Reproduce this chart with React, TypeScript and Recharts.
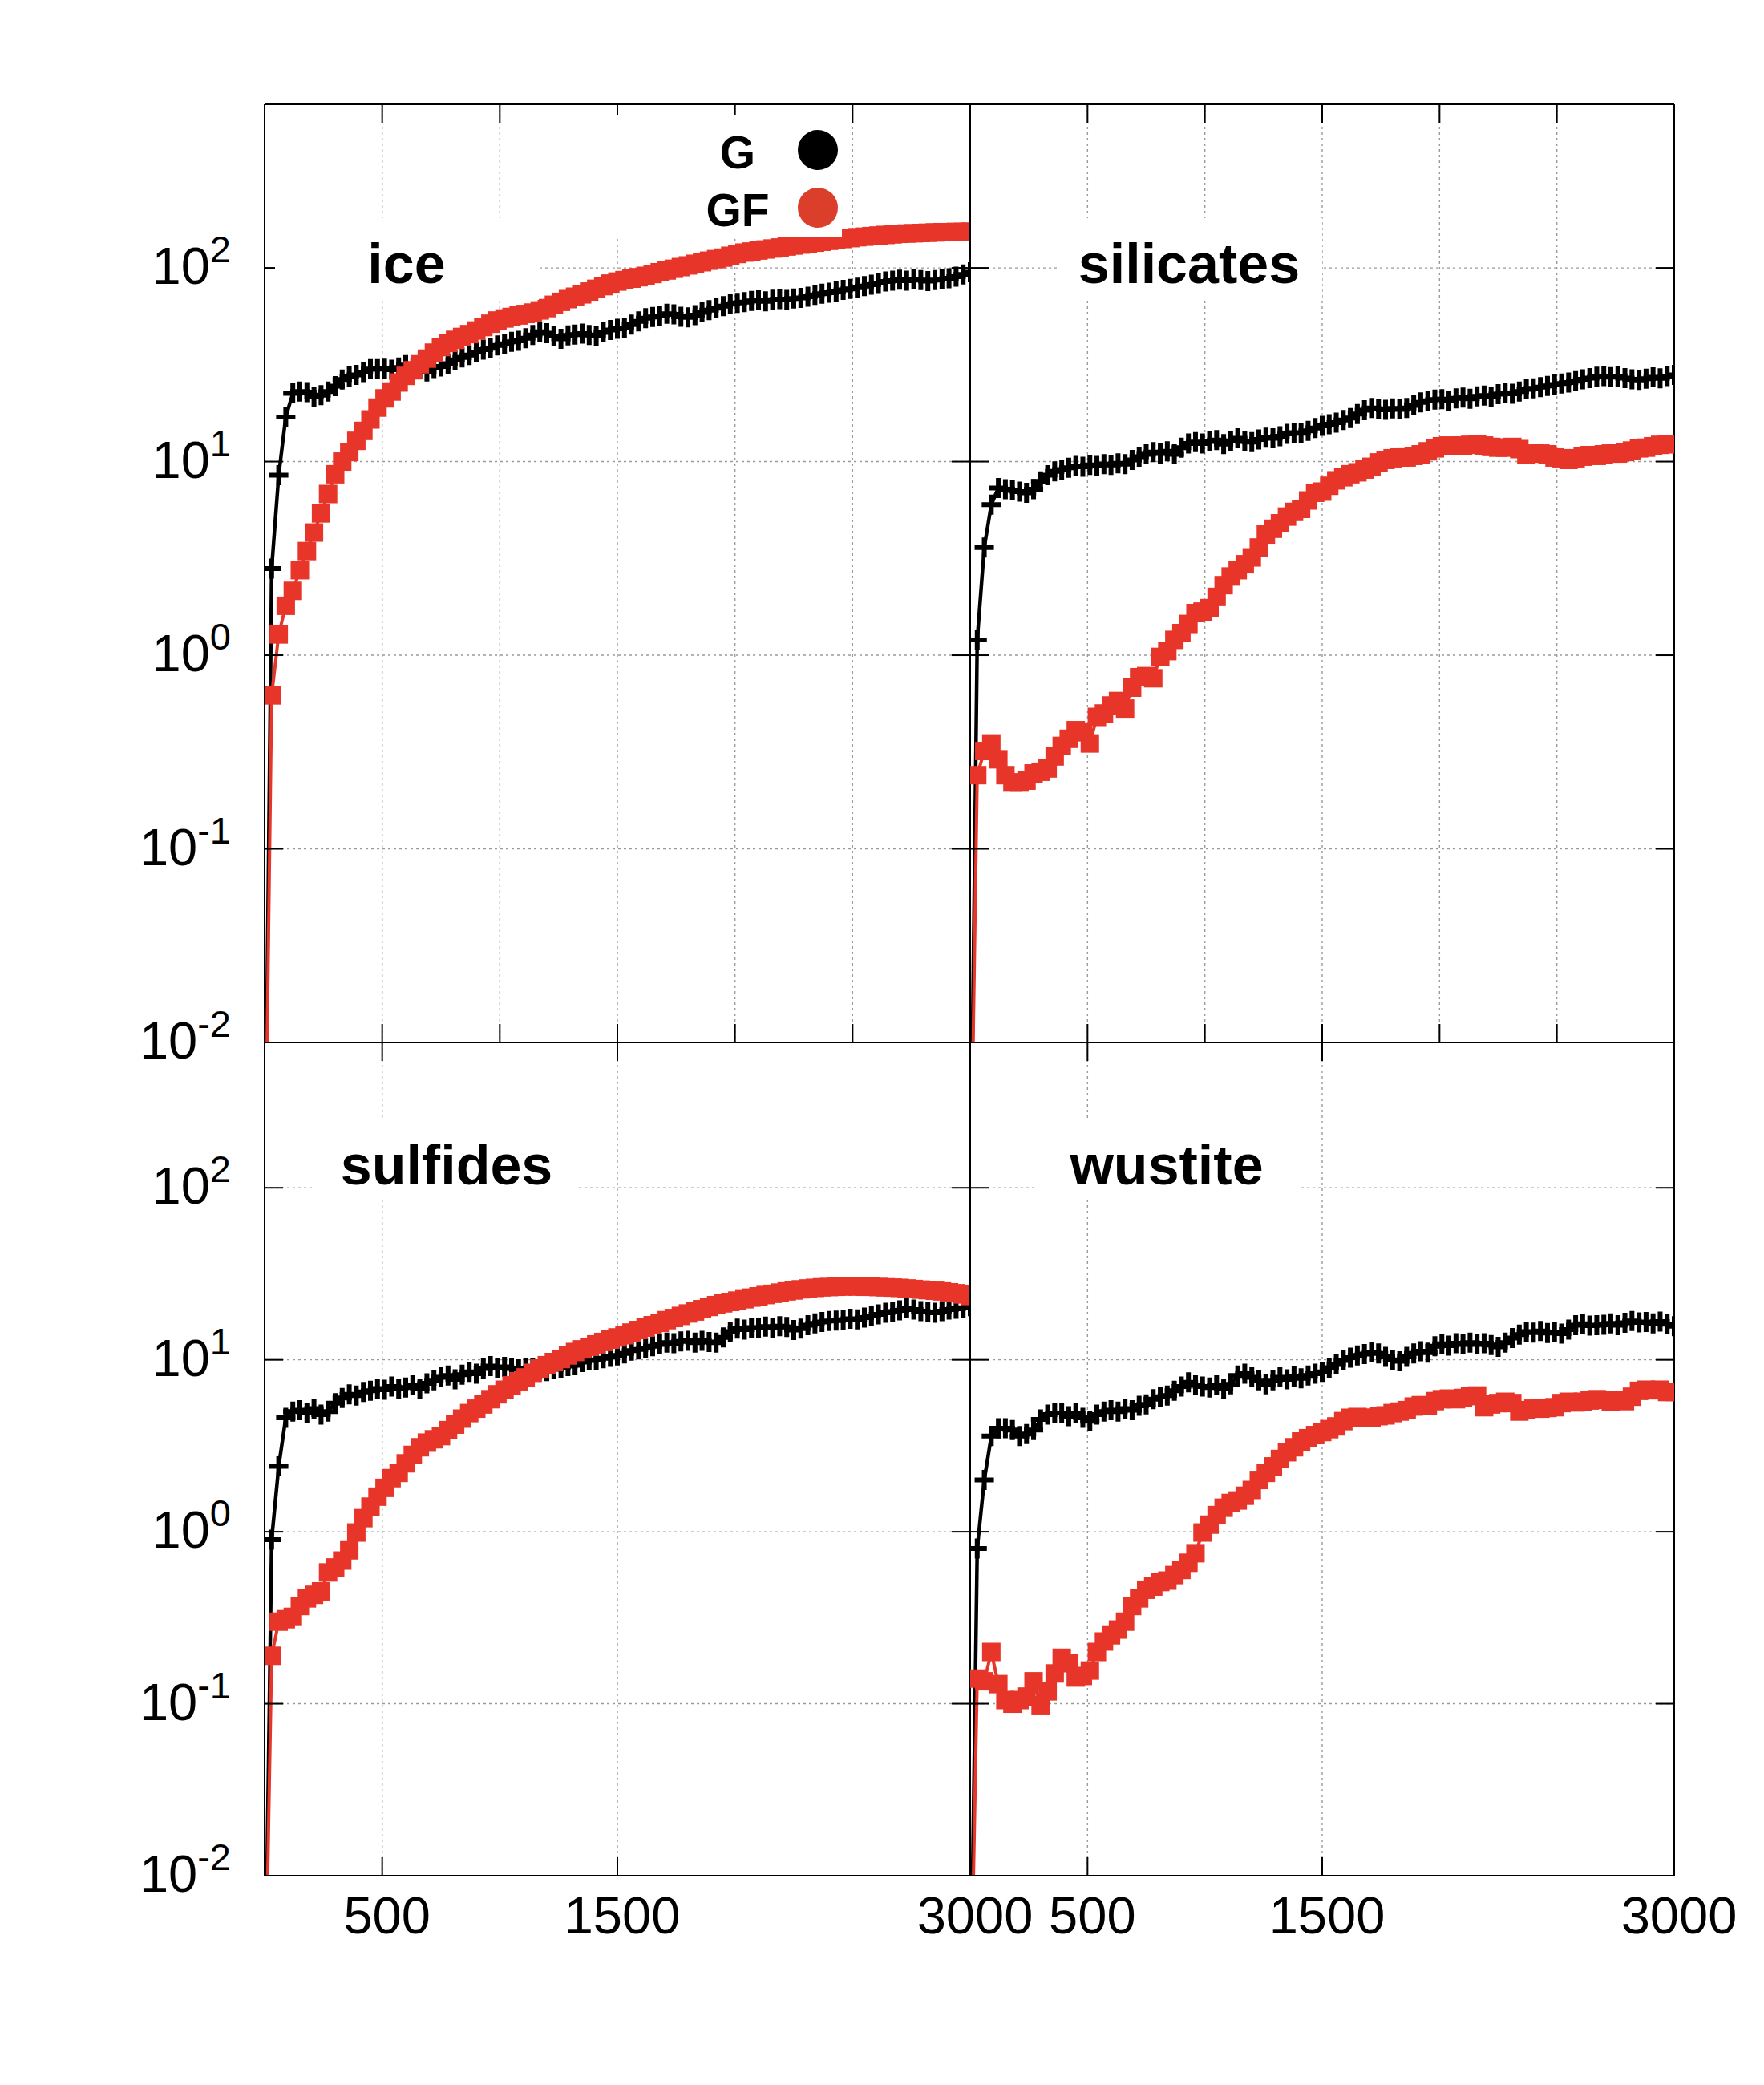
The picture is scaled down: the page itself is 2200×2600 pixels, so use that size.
import React from 'react'
import { LineChart, Line, XAxis, YAxis, CartesianGrid } from 'recharts'

// simulation time (x) shared by every panel
const times = [
  0, 30, 60, 90, 120, 150, 180, 210, 240, 270, 300, 330, 360, 390, 420, 450, 480, 510, 540, 570,
  600, 630, 660, 690, 720, 750, 780, 810, 840, 870, 900, 930, 960, 990, 1020, 1050, 1080, 1110, 1140, 1170,
  1200, 1230, 1260, 1290, 1320, 1350, 1380, 1410, 1440, 1470, 1500, 1530, 1560, 1590, 1620, 1650, 1680, 1710, 1740, 1770,
  1800, 1830, 1860, 1890, 1920, 1950, 1980, 2010, 2040, 2070, 2100, 2130, 2160, 2190, 2220, 2250, 2280, 2310, 2340, 2370,
  2400, 2430, 2460, 2490, 2520, 2550, 2580, 2610, 2640, 2670, 2700, 2730, 2760, 2790, 2820, 2850, 2880, 2910, 2940, 2970,
  3000,
]

const iceG = [
  0.001, 2.8, 8.5, 17, 22.5, 23, 22.8, 21.6, 22, 23,
  24.5, 26.5, 27.5, 28, 29, 30, 30, 30.2, 29.8, 30.6,
  31.5, 30.5, 30, 29.2, 30.4, 31, 32, 33.5, 34.5, 35.5,
  36.8, 37.8, 38.5, 39.8, 40.5, 41.5, 42, 43.3, 45, 46.8,
  46, 44.5, 43, 44.8, 45.2, 45.8, 45, 44.5, 46.5, 47.8,
  48.5, 49, 51, 53, 55, 55.8, 56.5, 58, 57.5, 56,
  55.5, 57, 59, 60.5, 62, 63.5, 65, 66, 66.5, 67.5,
  68, 67.2, 68.5, 69, 68.3, 69.5, 70, 71, 72.5, 73.5,
  74.5, 75.5, 77, 78, 79, 80.5, 82, 83.5, 85, 86,
  87, 86, 87.5, 86.5, 85.5, 86.5, 87.5, 88.5, 90, 92.5,
  95,
]
const iceGF = [
  0.001, 0.62, 1.28, 1.8, 2.15, 2.75, 3.45, 4.3, 5.4, 6.8,
  8.6, 10, 11.2, 12.8, 14.4, 16.5, 19, 21.2, 23, 25.6,
  27.7, 29.6, 31.8, 34, 36.5, 39, 41, 42.5, 44, 45.5,
  47.5, 49.5, 51.5, 53.5, 54.8, 55.8, 56.8, 57.8, 58.8, 60.3,
  62, 64.5, 66.8, 69, 71, 73, 75.5, 78, 80.5, 83,
  85, 86.5, 88, 89.5, 91, 93, 95, 97, 99, 101,
  103, 105, 107, 109, 111, 113, 115.5, 118, 120, 121.5,
  123, 124.5, 126, 127.5, 129, 130.5, 132, 133.5, 135, 136.5,
  138, 139.5, 141, 142.5, 144, 145, 146, 147, 148, 149,
  150, 150.5, 151, 151.5, 152, 152.5, 153, 153, 153.5, 153.5,
  154,
]
const silG = [
  0.001, 1.2, 3.6, 6, 7.3, 7.2, 7.1, 7, 6.9, 7.2,
  7.9, 8.5, 8.9, 9.1, 9.3, 9.5, 9.4, 9.6, 9.5, 9.7,
  9.6, 9.8, 9.7, 10.2, 10.6, 10.9, 11.2, 11, 11.3, 10.9,
  11.8, 12.4, 12.6, 12.4, 12.7, 12.9, 12.3, 12.8, 13.2, 12.7,
  12.6, 13, 13.3, 13.2, 13.5, 13.9, 14.1, 14, 14.4, 14.9,
  15.3, 15.6, 15.9, 16.4, 16.8, 17.6, 18.4, 18.9, 18.7, 18.5,
  18.8, 18.6, 18.9, 19.5, 20.2, 20.6, 20.9, 21, 20.6, 21.2,
  21.4, 21.1, 21.7, 21.9, 21.6, 22.3, 22.6, 22.4, 23, 23.6,
  23.9, 24.2, 24.6, 25, 25.3, 25.6, 26, 26.6, 27, 27.4,
  27.6, 27.3, 27.5, 27, 26.6, 26.4, 26.8, 27.2, 26.9, 27.6,
  28,
]
const silGF = [
  0.001, 0.24, 0.32, 0.35, 0.29, 0.24, 0.22, 0.22, 0.225, 0.245,
  0.25, 0.26, 0.3, 0.34, 0.37, 0.41, 0.4, 0.35, 0.48, 0.5,
  0.55, 0.58, 0.53, 0.68, 0.77, 0.78, 0.76, 0.98, 1.05, 1.2,
  1.3, 1.45, 1.65, 1.68, 1.75, 2, 2.3, 2.55, 2.75, 2.95,
  3.2, 3.6, 4.2, 4.5, 4.8, 5.2, 5.5, 5.7, 6.3, 6.9,
  7, 7.5, 8, 8.3, 8.6, 8.8, 9.1, 9.4, 9.9, 10.2,
  10.4, 10.5, 10.5, 10.7, 10.9, 11.3, 11.7, 12, 12.1, 12,
  12.1, 12.2, 12.3, 12.1, 11.9, 11.8, 11.8, 11.9, 11.6, 10.9,
  11, 11, 10.9, 10.5, 10.4, 10.2, 10.4, 10.6, 10.8, 10.7,
  10.9, 11, 11, 11.2, 11.4, 11.7, 11.8, 12, 12.2, 12.3,
  12.3,
]
const sulG = [
  0.001, 0.9, 2.4, 4.6, 5, 5.1, 4.9, 5.2, 4.8, 5,
  5.6, 6, 6.3, 6.2, 6.5, 6.6, 6.8, 6.7, 7, 6.8,
  6.9, 7.1, 6.8, 7.3, 7.6, 7.9, 8.1, 7.7, 8.2, 8.5,
  8.3, 8.9, 9.2, 9, 9.1, 8.9, 8.8, 8.9, 9, 8.8,
  8.6, 8.8, 9, 9.2, 9.3, 9.7, 9.9, 10, 10.2, 10.4,
  10.6, 10.9, 11.3, 11.5, 11.7, 12, 12.3, 12.6, 12.5, 12.8,
  12.9, 12.6, 12.9, 12.7, 12.6, 13.5, 14.6, 15.2, 15, 15.4,
  15.3, 15.6, 15.4, 15.7, 15.5, 14.9, 15.2, 15.9, 16.3, 16.6,
  16.8, 16.9, 17.1, 17.3, 17.2, 17.6, 18, 18.4, 18.8, 19.1,
  19.4, 19.9, 19.6, 19.2, 19, 18.8, 19.2, 19.6, 19.8, 20.1,
  20.5,
]
const sulGF = [
  0.001, 0.19, 0.3, 0.31, 0.32, 0.37, 0.41, 0.43, 0.45, 0.58,
  0.62, 0.68, 0.78, 0.99, 1.2, 1.4, 1.6, 1.8, 2.05, 2.2,
  2.5, 2.8, 3.1, 3.3, 3.45, 3.6, 3.9, 4.2, 4.55, 4.9,
  5.2, 5.5, 5.9, 6.3, 6.7, 7.1, 7.5, 7.9, 8.4, 8.9,
  9.3, 9.7, 10.1, 10.6, 11.1, 11.5, 11.9, 12.3, 12.7, 13.1,
  13.5, 13.9, 14.4, 14.9, 15.4, 15.9, 16.4, 17, 17.5, 18,
  18.6, 19.1, 19.7, 20.3, 20.8, 21.3, 21.7, 22.1, 22.5, 23,
  23.4, 23.8, 24.2, 24.6, 25, 25.3, 25.7, 26, 26.2, 26.4,
  26.5, 26.6, 26.7, 26.8, 26.7, 26.6, 26.6, 26.5, 26.4, 26.3,
  26.2, 26, 25.8, 25.6, 25.4, 25.2, 25, 24.7, 24.4, 24,
  23.5,
]
const wusG = [
  0.001, 0.8, 2, 3.6, 4, 4, 3.9, 3.6, 3.7, 3.9,
  4.5, 4.8, 4.9, 4.9, 4.7, 4.9, 4.6, 4.4, 4.8, 5,
  5.1, 5, 5.2, 5.1, 5.4, 5.5, 5.9, 6.1, 6.2, 6.6,
  7, 7.4, 7.1, 7, 6.9, 7.1, 6.8, 7.2, 8.1, 8.3,
  7.9, 7.6, 7.2, 7.6, 7.9, 7.7, 8, 7.8, 8.1, 8.3,
  8.5, 9, 9.4, 9.9, 10.3, 10.6, 10.8, 11.1, 10.9, 10.4,
  10, 9.8, 10.4, 10.9, 11.2, 11, 12, 12.4, 12.1, 12.5,
  12.3, 12.6, 12.3, 12.5, 12.2, 11.9, 12.6, 13.4, 14, 14.6,
  14.4, 14.7, 14.3, 14.5, 14.2, 15, 15.9, 16.2, 15.8, 15.9,
  16, 16.3, 15.9, 16.4, 16.8, 16.5, 16.6, 16.3, 16.7, 16.1,
  15.7,
]
const wusGF = [
  0.001, 0.14, 0.135, 0.2, 0.13, 0.105, 0.1, 0.105, 0.11, 0.135,
  0.098, 0.118, 0.15, 0.185, 0.172, 0.142, 0.145, 0.156, 0.2, 0.23,
  0.25, 0.27, 0.3, 0.37, 0.41, 0.46, 0.48, 0.51, 0.52, 0.56,
  0.6, 0.66, 0.75, 0.99, 1.1, 1.25, 1.38, 1.47, 1.52, 1.62,
  1.75, 2, 2.2, 2.4, 2.65, 2.9, 3.1, 3.35, 3.5, 3.65,
  3.8, 3.95, 4.1, 4.4, 4.6, 4.65, 4.6, 4.6, 4.7, 4.75,
  4.9, 5, 5.1, 5.35, 5.45, 5.4, 5.75, 5.9, 5.95, 5.9,
  6, 6.15, 6.2, 5.3, 5.5, 5.6, 5.7, 5.6, 5, 5.1,
  5.2, 5.2, 5.25, 5.3, 5.6, 5.7, 5.65, 5.7, 5.8, 5.9,
  5.85, 5.7, 5.8, 5.75, 6.1, 6.6, 6.7, 6.65, 6.7, 6.5,
  6.5,
]

const yTicks = [0.01, 0.1, 1, 10, 100]
const yTickExps = ['-2', '-1', '0', '1', '2']
const xTicksTop = [500, 1000, 1500, 2000, 2500, 3000]
const xTicksBottom = [500, 1500, 3000]
const seriesNames = ['G', 'GF']
const panelTitles = ['ice', 'silicates', 'sulfides', 'wustite']

const W = 2200
const H = 2600
const FONT = "'Liberation Sans', Arial, Helvetica, sans-serif"
const RED = '#e8352a'
const BLACK = '#000000'

const panels = [
  { g: iceG, gf: iceGF, left: 330, right: 1210, top: 130, bottom: 1300, xTicks: xTicksTop, xLabels: false, yLabels: true },
  { g: silG, gf: silGF, left: 1210, right: 2088, top: 130, bottom: 1300, xTicks: xTicksTop, xLabels: false, yLabels: false },
  { g: sulG, gf: sulGF, left: 330, right: 1210, top: 1300, bottom: 2339, xTicks: xTicksBottom, xLabels: true, yLabels: true },
  { g: wusG, gf: wusGF, left: 1210, right: 2088, top: 1300, bottom: 2339, xTicks: xTicksBottom, xLabels: true, yLabels: false },
]

// white label boxes drawn over the grid, as gnuplot does with opaque labels
const titleBoxes = [
  { x: 343, y: 272, w: 329, h: 102, tx: 507, ty: 353 },
  { x: 1318, y: 272, w: 331, h: 102, tx: 1483, ty: 353 },
  { x: 392, y: 1395, w: 329, h: 100, tx: 557, ty: 1477 },
  { x: 1292, y: 1395, w: 331, h: 100, tx: 1455, ty: 1477 },
]

const NoTick = () => <g />

const XTick = (props: any) => {
  const { x, y, payload } = props
  return (
    <text x={x + 6} y={y + 23} textAnchor="middle" fontSize={65} fontFamily={FONT} fill="#000">
      {payload.value}
    </text>
  )
}

const YTick = (props: any) => {
  const { x, y, payload } = props
  const exp = yTickExps[yTicks.indexOf(payload.value)]
  return (
    <text x={x} y={y + 20} textAnchor="end" fontSize={65} fontFamily={FONT} fill="#000">
      <tspan>10</tspan>
      <tspan dy={-27} fontSize={47}>{exp}</tspan>
    </text>
  )
}

const PlusDot = (props: any) => {
  const { cx, cy, index } = props
  if (cx == null || cy == null || isNaN(cy)) return <g key={`p${index}`} />
  return (
    <path
      key={`p${index}`}
      d={`M${cx - 12},${cy}H${cx + 12}M${cx},${cy - 12.5}V${cy + 12.5}`}
      stroke={BLACK}
      strokeWidth={6}
      fill="none"
    />
  )
}

const SquareDot = (props: any) => {
  const { cx, cy, index } = props
  if (cx == null || cy == null || isNaN(cy)) return <g key={`s${index}`} />
  return <rect key={`s${index}`} x={cx - 11.5} y={cy - 11.5} width={23} height={23} fill={RED} />
}

const axisStroke = { stroke: '#000', strokeWidth: 2 }

function Panel({ p }: { p: (typeof panels)[number] }) {
  const data = times.map((t, i) => ({ t, g: p.g[i], gf: p.gf[i] }))
  return (
    <div style={{ position: 'absolute', left: 0, top: 0 }}>
      <LineChart
        width={W}
        height={H}
        data={data}
        margin={{ top: p.top - 1, left: p.left - 200, right: W - p.right - 1, bottom: H - p.bottom - 1 }}
      >
        <CartesianGrid stroke="#9a9a9a" strokeDasharray="3 4" strokeWidth={1.4} />
        <XAxis
          dataKey="t"
          type="number"
          domain={[0, 3000]}
          ticks={p.xTicks}
          interval={0}
          height={1}
          allowDataOverflow
          tickSize={-23}
          tickMargin={72}
          axisLine={axisStroke}
          tickLine={axisStroke}
          tick={p.xLabels ? XTick : NoTick}
        />
        <XAxis
          xAxisId="top"
          orientation="top"
          dataKey="t"
          type="number"
          domain={[0, 3000]}
          ticks={p.xTicks}
          interval={0}
          height={1}
          allowDataOverflow
          tickSize={-23}
          axisLine={axisStroke}
          tickLine={axisStroke}
          tick={NoTick}
        />
        <YAxis
          type="number"
          scale="log"
          domain={[0.01, 700]}
          ticks={yTicks}
          interval={0}
          width={200}
          allowDataOverflow
          tickSize={-23}
          tickMargin={65}
          axisLine={axisStroke}
          tickLine={axisStroke}
          tick={p.yLabels ? YTick : NoTick}
        />
        <YAxis
          yAxisId="right"
          orientation="right"
          type="number"
          scale="log"
          domain={[0.01, 700]}
          ticks={yTicks}
          interval={0}
          width={1}
          allowDataOverflow
          tickSize={-23}
          axisLine={axisStroke}
          tickLine={axisStroke}
          tick={NoTick}
        />
        <Line
          dataKey="g"
          name={seriesNames[0]}
          type="linear"
          stroke={BLACK}
          strokeWidth={4.5}
          dot={PlusDot}
          activeDot={false}
          isAnimationActive={false}
        />
        <Line
          dataKey="gf"
          name={seriesNames[1]}
          type="linear"
          stroke={RED}
          strokeWidth={4}
          dot={SquareDot}
          activeDot={false}
          isAnimationActive={false}
        />
      </LineChart>
    </div>
  )
}

export default function App() {
  return (
    <div style={{ position: 'absolute', left: 0, top: 0, width: W, height: H, background: '#fff', overflow: 'hidden' }}>
      {panels.map((p, i) => (
        <Panel key={i} p={p} />
      ))}
      <svg width={W} height={H} style={{ position: 'absolute', left: 0, top: 0, pointerEvents: 'none' }}>
        {titleBoxes.map((b, i) => (
          <g key={i}>
            <rect x={b.x} y={b.y} width={b.w} height={b.h} fill="#fff" />
            <text x={b.tx} y={b.ty} textAnchor="middle" fontSize={70} fontWeight="bold" fontFamily={FONT} fill="#000">
              {panelTitles[i]}
            </text>
          </g>
        ))}
        <rect x={700} y={143} width={350} height={152} fill="#fff" />
        <text x={920} y={210} textAnchor="middle" fontSize={57} fontWeight="bold" fontFamily={FONT} fill="#000">
          {seriesNames[0]}
        </text>
        <circle cx={1020} cy={187} r={25} fill={BLACK} />
        <text x={920} y={282} textAnchor="middle" fontSize={57} fontWeight="bold" fontFamily={FONT} fill="#000">
          {seriesNames[1]}
        </text>
        <circle cx={1020} cy={259} r={25} fill="#db3e2b" />
      </svg>
    </div>
  )
}
